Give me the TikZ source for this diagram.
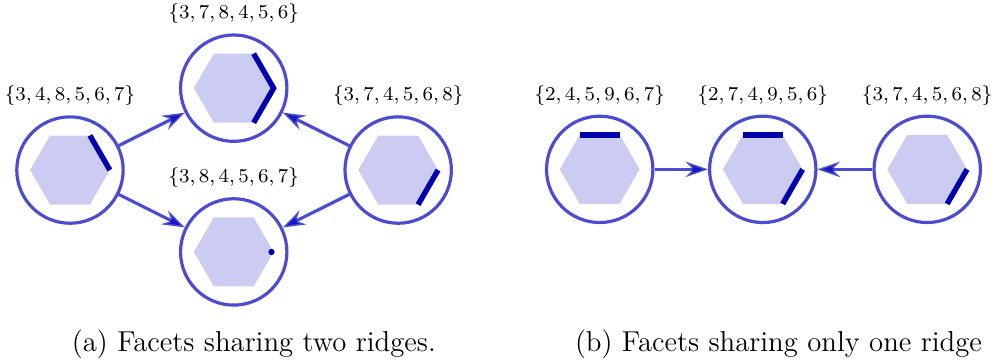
\documentclass[tikz,border=0pt]{standalone}
\usetikzlibrary{arrows.meta,positioning}
\definecolor{facetline}{RGB}{0,0,190}
\definecolor{hexfill}{RGB}{204,204,242}
\definecolor{ridgeblue}{RGB}{0,0,170}
\newcommand{\hexr}{5.7mm}
\tikzset{
  facet/.style={circle,draw=facetline,draw opacity=0.7,line width=1.3pt,
    minimum size=15.2mm,inner sep=0pt},
  hexa/.style={fill=hexfill},
  ridge/.style={draw=ridgeblue,line width=2.2pt},
  flip/.style={-{Stealth[length=3.2mm,width=2.2mm,inset=1.1mm]},line width=1.3pt,
    draw=facetline,opacity=0.7},
  lbl/.style={font=\fontsize{7.6}{9}\selectfont,inner sep=0pt},
  subcap/.style={font=\fontsize{11.7}{14}\selectfont,inner sep=0pt,anchor=west},
}

\begin{document}
\begin{tikzpicture}
    \useasboundingbox (0,0) rectangle (141.9mm,-51.7mm);
    % (a) two ridges
    \node[facet] (a1) at (10mm,-24.3mm) {};
    \node[facet] (a2) at (33.4mm,-12.6mm) {};
    \node[facet] (a3) at (33.4mm,-36mm) {};
    \node[facet] (a4) at (56.9mm,-24.3mm) {};
    % (b) one ridge
    \node[facet] (b1) at (85.7mm,-24.2mm) {};
    \node[facet] (b2) at (109mm,-24.2mm) {};
    \node[facet] (b3) at (132.5mm,-24.2mm) {};
    \foreach \f in {a1,a2,a3,a4,b1,b2,b3}
      \fill[hexa,shift={(\f)}] (0:\hexr) \foreach \k in {60,120,...,300} {-- (\k:\hexr)} -- cycle;
    % ridges
    \draw[ridge,shift={(a1)}] (60:\hexr) -- (0:\hexr);
    \draw[ridge,shift={(a2)}] (60:\hexr) -- (0:\hexr) -- (300:\hexr);
    \fill[ridgeblue,shift={(a3)}] (0:5.4mm) circle (0.45mm);
    \draw[ridge,shift={(a4)}] (0:\hexr) -- (300:\hexr);
    \draw[ridge,shift={(b1)}] (120:\hexr) -- (60:\hexr);
    \draw[ridge,shift={(b2)}] (120:\hexr) -- (60:\hexr);
    \draw[ridge,shift={(b2)}] (0:\hexr) -- (300:\hexr);
    \draw[ridge,shift={(b3)}] (0:\hexr) -- (300:\hexr);
    % labels
    \node[lbl,above=1.3mm of a1] (la1) {$\{3,4,8,5,6,7\}$};
    \node[lbl,above=1.3mm of a2] (la2) {$\{3,7,8,4,5,6\}$};
    \node[lbl,above=1.3mm of a3] (la3) {$\{3,8,4,5,6,7\}$};
    \node[lbl,above=1.3mm of a4] (la4) {$\{3,7,4,5,6,8\}$};
    \node[lbl,above=1.3mm of b1] (lb1) {$\{2,4,5,9,6,7\}$};
    \node[lbl,above=1.3mm of b2] (lb2) {$\{2,7,4,9,5,6\}$};
    \node[lbl,above=1.3mm of b3] (lb3) {$\{3,7,4,5,6,8\}$};
    % flips
    \draw[flip] (a1) -- (a2);
    \draw[flip] (a1) -- (a3);
    \draw[flip] (a4) -- (a2);
    \draw[flip] (a4) -- (a3);
    \draw[flip] (b1) -- (b2);
    \draw[flip] (b3) -- (b2);
    % captions
    \node[subcap] (capa) at (10.2mm,-49.2mm) {(a) Facets sharing two ridges.};
    \node[subcap] (capb) at (82.1mm,-49.2mm) {(b) Facets sharing only one ridge};
\end{tikzpicture}
\end{document}
